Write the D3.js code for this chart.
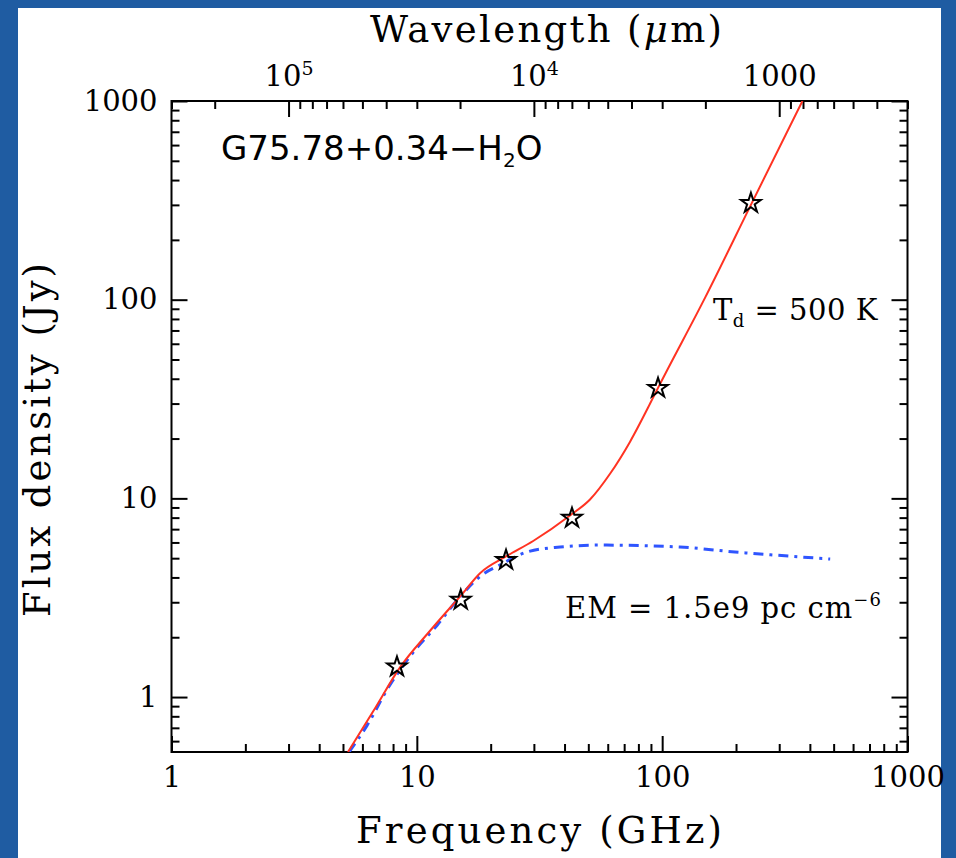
<!DOCTYPE html>
<html>
<head>
<meta charset="utf-8">
<script src="https://cdn.jsdelivr.net/npm/d3@7"></script>
<style>
html, body { margin: 0; padding: 0; background: #1f5ca2; }
svg { display: block; }
text { white-space: pre; }
</style>
</head>
<body>
<script>
// observed flux densities (GHz, Jy)
const obsFreq = [8.3, 15.1, 23.1, 42.9, 96.2, 230];
const obsFlux = [1.42, 3.08, 4.89, 7.96, 35.9, 306];

// total model, free-free + dust (red)
const totalFreq = [5.24, 6.65, 8.54, 11.3, 15.3, 18.1, 23.1, 29.8, 42.1, 50.8, 61.3, 74, 89.3, 96.2, 150, 230, 373];
const totalFlux = [0.529, 0.85, 1.41, 2.15, 3.3, 4.2, 5.1, 6.1, 8.2, 9.87, 13.3, 19.3, 30.0, 36, 103, 300, 1000];

// free-free only (blue, dashed)
const ffFreq = [5.3, 6.27, 7.63, 9.56, 12.1, 15, 18.4, 21.8, 28.1, 38.4, 55.8, 118, 198, 283, 484];
const ffFlux = [0.53, 0.72, 1.11, 1.65, 2.3, 3.2, 4.11, 4.62, 5.37, 5.69, 5.82, 5.69, 5.37, 5.19, 4.95];

const freqTicks = [1, 10, 100, 1000];
const fluxTicks = [1, 10, 100, 1000];
const waveTicks = [1e5, 1e4, 1000];

const W = 956, H = 858;
const box = {left: 171.5, right: 907.5, top: 101, bottom: 752};
const serif = "DejaVu Serif";

const x = d3.scaleLog().domain([1, 1000]).range([box.left, box.right]);
const y = d3.scaleLog().domain([0.529, 1000]).range([box.bottom, box.top]);
// wavelength in micron = 3e5 / frequency in GHz
const lam = d3.scaleLog().domain([3e5, 300]).range([box.left, box.right]);

const svg = d3.select("body").append("svg").attr("width", W).attr("height", H);

svg.append("rect").attr("x", 18).attr("y", 8).attr("width", 923).attr("height", H - 8).attr("fill", "white");

svg.append("defs").append("clipPath").attr("id", "plot")
    .append("rect").attr("x", box.left).attr("y", box.top)
    .attr("width", box.right - box.left).attr("height", box.bottom - box.top);

function styleAxis(g) {
    g.select(".domain").remove();
    g.attr("font-family", serif).attr("font-size", 29);
    g.selectAll(".tick line").attr("stroke", "black").attr("stroke-width", 2);
    g.selectAll(".tick text").attr("fill", "black");
}

const minorX = x.ticks().filter(d => !freqTicks.includes(d));
const minorY = y.ticks().filter(d => !fluxTicks.includes(d));
const minorL = lam.ticks().filter(d => !waveTicks.includes(d));

// bottom
svg.append("g").attr("transform", `translate(0,${box.bottom})`)
    .call(d3.axisBottom(x).tickValues(freqTicks).tickSize(-16).tickPadding(14).tickFormat(d3.format("d")))
    .call(styleAxis);
svg.append("g").attr("transform", `translate(0,${box.bottom})`)
    .call(d3.axisBottom(x).tickValues(minorX).tickSize(-8).tickFormat(""))
    .call(styleAxis);

// left
svg.append("g").attr("transform", `translate(${box.left},0)`)
    .call(d3.axisLeft(y).tickValues(fluxTicks).tickSize(-16).tickPadding(14).tickFormat(d3.format("d")))
    .call(styleAxis);
svg.append("g").attr("transform", `translate(${box.left},0)`)
    .call(d3.axisLeft(y).tickValues(minorY).tickSize(-8).tickFormat(""))
    .call(styleAxis);

// right
svg.append("g").attr("transform", `translate(${box.right},0)`)
    .call(d3.axisRight(y).tickValues(fluxTicks).tickSize(-16).tickFormat(""))
    .call(styleAxis);
svg.append("g").attr("transform", `translate(${box.right},0)`)
    .call(d3.axisRight(y).tickValues(minorY).tickSize(-8).tickFormat(""))
    .call(styleAxis);

// top (wavelength)
svg.append("g").attr("transform", `translate(0,${box.top})`)
    .call(d3.axisTop(lam).tickValues(waveTicks).tickSize(-16).tickPadding(15)
        .tickFormat(d => d >= 1e4 ? "10" : "1000"))
    .call(styleAxis)
    .call(g => g.selectAll(".tick text").each(function(d) {
        if (d >= 1e4) {
            d3.select(this).append("tspan").attr("font-size", 19).attr("dy", -11)
                .text(Math.round(Math.log10(d)));
        }
    }));
svg.append("g").attr("transform", `translate(0,${box.top})`)
    .call(d3.axisTop(lam).tickValues(minorL).tickSize(-8).tickFormat(""))
    .call(styleAxis);

// frame
svg.append("rect").attr("x", box.left).attr("y", box.top)
    .attr("width", box.right - box.left).attr("height", box.bottom - box.top)
    .attr("fill", "none").attr("stroke", "black").attr("stroke-width", 2);

const line = d3.line().x(d => x(d[0])).y(d => y(d[1])).curve(d3.curveMonotoneX);
const curves = svg.append("g").attr("clip-path", "url(#plot)");

curves.append("path")
    .datum(d3.zip(ffFreq, ffFlux))
    .attr("d", line)
    .attr("fill", "none").attr("stroke", "#2f55ff").attr("stroke-width", 3)
    .attr("stroke-dasharray", "10,6,3,6");

curves.append("path")
    .datum(d3.zip(totalFreq, totalFlux))
    .attr("d", line)
    .attr("fill", "none").attr("stroke", "#ff3322").attr("stroke-width", 2);

svg.append("g").selectAll("path")
    .data(d3.zip(obsFreq, obsFlux))
    .join("path")
    .attr("transform", d => `translate(${x(d[0])},${y(d[1])})`)
    .attr("d", d3.symbol(d3.symbolStar, 120))
    .attr("fill", "none").attr("stroke", "black").attr("stroke-width", 2);

// labels
svg.append("text").attr("x", 546).attr("y", 42).attr("text-anchor", "middle")
    .attr("font-family", serif).attr("font-size", 37)
    .attr("textLength", 352).attr("lengthAdjust", "spacing")
    .call(t => {
        t.append("tspan").text("Wavelength (");
        t.append("tspan").attr("font-style", "italic").text("μ");
        t.append("tspan").text("m)");
    });

svg.append("text").attr("x", 539).attr("y", 843).attr("text-anchor", "middle")
    .attr("font-family", serif).attr("font-size", 37)
    .attr("textLength", 366).attr("lengthAdjust", "spacing")
    .text("Frequency (GHz)");

svg.append("text").attr("transform", "translate(50,440) rotate(-90)").attr("text-anchor", "middle")
    .attr("font-family", serif).attr("font-size", 37)
    .attr("textLength", 354).attr("lengthAdjust", "spacing")
    .text("Flux density (Jy)");

svg.append("text").attr("x", 221).attr("y", 160)
    .attr("font-family", "DejaVu Sans").attr("font-size", 34)
    .call(t => {
        t.append("tspan").text("G75.78+0.34\u2212H");
        t.append("tspan").attr("font-size", 20).attr("dy", 7).text("2");
        t.append("tspan").attr("dy", -7).text("O");
    });

svg.append("text").attr("x", 713).attr("y", 320)
    .attr("font-family", serif).attr("font-size", 29).attr("letter-spacing", 0.5)
    .call(t => {
        t.append("tspan").text("T");
        t.append("tspan").attr("font-size", 18).attr("dy", 7).text("d");
        t.append("tspan").attr("dy", -7).text(" = 500 K");
    });

svg.append("text").attr("x", 565).attr("y", 618)
    .attr("font-family", serif).attr("font-size", 29).attr("letter-spacing", 1)
    .call(t => {
        t.append("tspan").text("EM = 1.5e9 pc cm");
        t.append("tspan").attr("font-size", 18).attr("dy", -12).text("\u22126");
    });
</script>
</body>
</html>
